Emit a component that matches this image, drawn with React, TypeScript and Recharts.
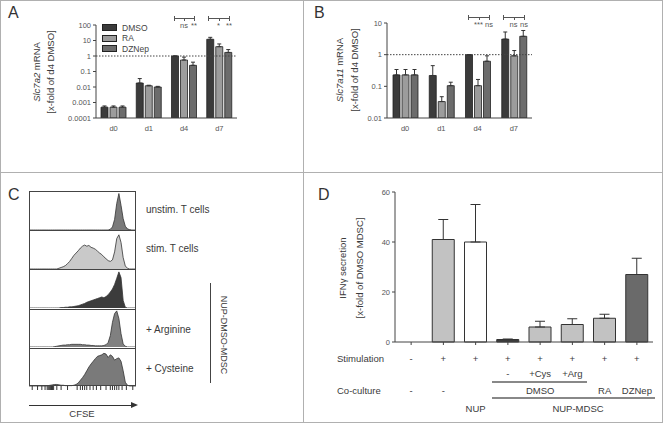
import React from "react";
import {
  BarChart,
  Bar,
  XAxis,
  YAxis,
  ErrorBar,
  ReferenceLine,
  Cell,
  AreaChart,
  Area,
} from "recharts";

// ---- panel A / B: mRNA (log scale)
const days = ["d0", "d1", "d4", "d7"];

const a_dmso = [0.0005, 0.018, 1, 12];
const a_dmsoErr = [0.0001, 0.017, 0, 4];
const a_ra = [0.0005, 0.012, 0.55, 4];
const a_raErr = [0.0001, 0.001, 0.3, 2];
const a_dznep = [0.0005, 0.01, 0.25, 1.7];
const a_dznepErr = [0.0001, 0.001, 0.15, 0.9];

const b_dmso = [0.23, 0.22, 1, 3.1];
const b_dmsoErr = [0.11, 0.23, 0, 2.1];
const b_ra = [0.23, 0.033, 0.105, 0.92];
const b_raErr = [0.11, 0.014, 0.06, 0.43];
const b_dznep = [0.23, 0.105, 0.62, 3.8];
const b_dznepErr = [0.11, 0.03, 0.3, 2];

const aTicks = [0.0001, 0.001, 0.01, 0.1, 1, 10, 100];
const bTicks = [0.01, 0.1, 1, 10];
const legendItems = ["DMSO", "RA", "DZNep"];

// ---- panel C: CFSE histograms, x = 0..100 step 2
const cfseX = Array.from({ length: 51 }, (_, i) => i * 2);
const hUnstim = [
  0, 0, 0, 0, 0, 0, 0, 0, 0, 0, 0, 0, 0, 0, 0, 0, 0, 0, 0, 0, 0, 0, 0, 0, 0, 0,
  0, 0, 0, 0, 0, 0, 0, 0, 0, 0, 0, 0, 2, 8, 28, 70, 96, 65, 30, 10, 3, 1, 0, 0, 0,
];
const hStim = [
  0, 0, 0, 0, 0, 0, 0, 0, 0, 0, 0, 0, 0, 0, 2, 4, 6, 9, 14, 20, 28, 36, 42, 48,
  55, 60, 63, 60, 62, 57, 55, 52, 47, 42, 38, 32, 27, 22, 20, 24, 45, 80, 90, 70,
  30, 8, 2, 0, 0, 0, 0,
];
const hMdsc = [
  0, 0, 0, 0, 0, 0, 0, 0, 0, 0, 0, 0, 0, 0, 0, 1, 1, 2, 2, 3, 3, 4, 5, 6, 8, 10,
  12, 15, 17, 19, 21, 23, 25, 27, 29, 27, 30, 35, 42, 50, 62, 78, 95, 80, 20, 2, 0,
  0, 0, 0, 0,
];
const hArg = [
  0, 0, 0, 0, 0, 0, 0, 0, 0, 0, 0, 0, 1, 2, 3, 4, 5, 5, 6, 6, 7, 7, 7, 7, 7, 6, 6,
  5, 5, 4, 4, 3, 3, 3, 3, 4, 6, 12, 30, 65, 88, 95, 75, 35, 8, 2, 0, 0, 0, 0, 0,
];
const hCys = [
  0, 0, 0, 0, 0, 0, 0, 0, 0, 1, 2, 3, 4, 4, 3, 2, 2, 1, 1, 1, 1, 2, 4, 8, 15, 22,
  30, 40, 50, 58, 65, 72, 78, 80, 82, 86, 84, 75, 82, 78, 68, 72, 74, 65, 40, 10, 2,
  0, 0, 0, 0,
];
const cfseTicks = [
  3, 8, 12, 15, 17, 18, 19, 20, 21, 22, 23, 26, 30, 36, 45, 48, 50, 52, 54, 57, 60,
  63, 67, 72, 76, 78, 80, 82, 84, 87, 91, 97,
];

// ---- panel D: IFNg
const dGroups = ["c1", "c2", "c3", "c4", "c5", "c6", "c7", "c8"];
const dValues = [0, 41, 40, 1, 6, 7, 9.5, 27];
const dErr = [0, 8, 15, 0.2, 2.3, 2.3, 1.6, 6.5];
const dStim = ["-", "+", "+", "+", "+", "+", "+", "+"];
const dSub = ["", "", "", "-", "+Cys", "+Arg", "", ""];
const dCo = ["-", "-", "", "", "DMSO", "", "RA", "DZNep"];

const FONT = '"Liberation Sans", Arial, sans-serif';
const C_DMSO = "#3b3b3b";
const C_RA = "#9c9c9c";
const C_DZ = "#6c6c6c";
const legendFills = [C_DMSO, C_RA, C_DZ];
const dFills = ["#c2c2c2", "#c2c2c2", "#ffffff", "#3b3b3b", "#c2c2c2", "#c2c2c2", "#c2c2c2", "#6a6a6a"];

const rowsA = days.map((d, i) => ({
  day: d,
  dmso: a_dmso[i],
  dmsoErr: [0, a_dmsoErr[i]],
  ra: a_ra[i],
  raErr: [0, a_raErr[i]],
  dz: a_dznep[i],
  dzErr: [0, a_dznepErr[i]],
}));
const rowsB = days.map((d, i) => ({
  day: d,
  dmso: b_dmso[i],
  dmsoErr: [0, b_dmsoErr[i]],
  ra: b_ra[i],
  raErr: [0, b_raErr[i]],
  dz: b_dznep[i],
  dzErr: [0, b_dznepErr[i]],
}));
const rowsD = dGroups.map((g, i) => ({ g, v: dValues[i], e: [0, dErr[i]] }));
const hists = [
  { vals: hUnstim, fill: "#7a7a7a" },
  { vals: hStim, fill: "#c9c9c9" },
  { vals: hMdsc, fill: "#3c3c3c" },
  { vals: hArg, fill: "#808080" },
  { vals: hCys, fill: "#7a7a7a" },
];

const tickStyle = { fontSize: 7.5, fill: "#555", fontFamily: FONT };

function Txt({ x, y, children, size = 9.5, anchor = "center", rotate = 0, color = "#3a3a3a", style = {} }: any) {
  const tx = anchor === "center" ? "-50%" : anchor === "right" ? "-100%" : "0";
  return (
    <div
      style={{
        position: "absolute",
        left: x,
        top: y,
        transform: `translate(${tx}, -50%) rotate(${rotate}deg)`,
        fontSize: size,
        color,
        whiteSpace: "nowrap",
        lineHeight: 1,
        ...style,
      }}
    >
      {children}
    </div>
  );
}

function HLine({ x1, x2, y, color = "#444", w = 1 }: any) {
  return <div style={{ position: "absolute", left: x1, top: y, width: x2 - x1, height: w, background: color }} />;
}
function VLine({ x, y1, y2, color = "#444", w = 1 }: any) {
  return <div style={{ position: "absolute", left: x, top: y1, width: w, height: y2 - y1, background: color }} />;
}

function Bracket({ x1, x2, y, labels }: any) {
  const xm = (x1 + x2) / 2;
  return (
    <>
      <HLine x1={x1} x2={x2} y={y} color="#555" />
      <VLine x={x1} y1={y - 2} y2={y + 3} color="#555" />
      <VLine x={xm} y1={y} y2={y + 3} color="#555" />
      <VLine x={x2} y1={y - 2} y2={y + 3} color="#555" />
      <Txt x={xm} y={y + 8} size={7.5} color="#555">{labels[0]}</Txt>
      <Txt x={x2} y={y + 8} size={7.5} color="#555">{labels[1]}</Txt>
    </>
  );
}

function MrnaChart({ rows, ticks, domain, top, right, left, plotH }: any) {
  return (
    <BarChart
      width={250}
      height={145}
      data={rows}
      margin={{ top, right, left, bottom: 145 - top - plotH - 20 }}
      barSize={7}
      barGap={2}
    >
      <XAxis dataKey="day" tickLine={false} axisLine={{ stroke: "#444" }} tick={tickStyle} height={20} />
      <YAxis
        scale="log"
        domain={domain}
        ticks={ticks}
        allowDataOverflow
        axisLine={{ stroke: "#444" }}
        tickLine={{ stroke: "#444" }}
        tickSize={3}
        tick={tickStyle}
        width={40}
      />
      <ReferenceLine y={1} stroke="#444" strokeDasharray="1.5 1.5" />
      <Bar dataKey="dmso" name="DMSO" fill={C_DMSO} stroke="#222" strokeWidth={0.8} isAnimationActive={false}>
        <ErrorBar dataKey="dmsoErr" width={2} stroke="#333" strokeWidth={1} />
      </Bar>
      <Bar dataKey="ra" name="RA" fill={C_RA} stroke="#222" strokeWidth={0.8} isAnimationActive={false}>
        <ErrorBar dataKey="raErr" width={2} stroke="#333" strokeWidth={1} />
      </Bar>
      <Bar dataKey="dz" name="DZNep" fill={C_DZ} stroke="#222" strokeWidth={0.8} isAnimationActive={false}>
        <ErrorBar dataKey="dzErr" width={2} stroke="#333" strokeWidth={1} />
      </Bar>
    </BarChart>
  );
}

export default function App() {
  const dx = (i: number) => 395 + (258 / 8) * (i + 0.5);
  return (
    <div
      style={{
        position: "absolute",
        left: 0,
        top: 0,
        width: 663,
        height: 423,
        background: "#fff",
        fontFamily: FONT,
        overflow: "hidden",
      }}
    >
      {/* frame */}
      <div style={{ position: "absolute", left: 0, top: 0, width: 661, height: 421, border: "1px solid #b0b0b0" }} />
      <VLine x={303} y1={0} y2={423} color="#b0b0b0" />
      <HLine x1={0} x2={663} y={172} color="#b0b0b0" />

      <Txt x={8} y={13} size={16} anchor="left" color="#333">A</Txt>
      <Txt x={314} y={13} size={16} anchor="left" color="#333">B</Txt>
      <Txt x={8} y={195} size={16} anchor="left" color="#333">C</Txt>
      <Txt x={318} y={195} size={16} anchor="left" color="#333">D</Txt>

      {/* Panel A */}
      <div style={{ position: "absolute", left: 0, top: 0 }}>
        <MrnaChart rows={rowsA} ticks={aTicks} domain={[0.0001, 100]} top={25} right={13} left={56} plotH={93} />
      </div>
      {legendItems.map((name, i) => (
        <div key={name} style={{ position: "absolute", left: 102, top: 23.5 + i * 10.5, display: "flex", alignItems: "center", height: 8 }}>
          <div style={{ width: 15, height: 7, background: legendFills[i], border: "0.8px solid #222", boxSizing: "border-box" }} />
          <span style={{ marginLeft: 5, fontSize: 8.5, color: "#444" }}>{name}</span>
        </div>
      ))}
      <Txt x={37} y={72} size={9.5} rotate={-90}>
        <i>Slc7a2</i> mRNA
      </Txt>
      <Txt x={51} y={72} size={9.5} rotate={-90}>[x-fold of d4 DMSO]</Txt>
      <Bracket x1={174} x2={194} y={18} labels={["ns", "**"]} />
      <Bracket x1={208} x2={229} y={18} labels={["*", "**"]} />

      {/* Panel B */}
      <div style={{ position: "absolute", left: 291, top: 0 }}>
        <MrnaChart rows={rowsB} ticks={bTicks} domain={[0.01, 10]} top={23} right={9} left={56} plotH={95} />
      </div>
      <Txt x={340} y={70} size={9.5} rotate={-90}>
        <i>Slc7a11</i> mRNA
      </Txt>
      <Txt x={355} y={70} size={9.5} rotate={-90}>[x-fold of d4 DMSO]</Txt>
      <Bracket x1={468} x2={489} y={17} labels={["***", "ns"]} />
      <Bracket x1={503} x2={524} y={17} labels={["ns", "ns"]} />

      {/* Panel C */}
      {hists.map((h, r) => {
        const data = cfseX.map((x, i) => ({ x, y: h.vals[i] }));
        const last = r === hists.length - 1;
        return (
          <div key={r} style={{ position: "absolute", left: 29, top: 191 + r * 39 }}>
            <AreaChart width={107} height={last ? 45 : 39} data={data} margin={{ top: 1, right: 0, left: 0, bottom: 0 }}>
              <XAxis
                dataKey="x"
                type="number"
                domain={[0, 100]}
                hide={!last}
                ticks={cfseTicks}
                interval={0}
                tickSize={4}
                tickLine={{ stroke: "#333" }}
                axisLine={false}
                tickFormatter={() => ""}
                height={6}
              />
              <YAxis hide domain={[0, 100]} />
              <Area
                type="linear"
                dataKey="y"
                fill={h.fill}
                fillOpacity={1}
                stroke="#333"
                strokeWidth={0.8}
                isAnimationActive={false}
              />
            </AreaChart>
          </div>
        );
      })}
      <div style={{ position: "absolute", left: 29, top: 191, width: 107, height: 195, border: "1px solid #444", boxSizing: "border-box" }} />
      {[230, 269, 309, 348].map((y) => (
        <HLine key={y} x1={29} x2={136} y={y} color="#444" />
      ))}
      <Txt x={146} y={210} anchor="left" size={10}>unstim. T cells</Txt>
      <Txt x={146} y={249} anchor="left" size={10}>stim. T cells</Txt>
      <Txt x={146} y={330} anchor="left" size={10}>+ Arginine</Txt>
      <Txt x={146} y={369} anchor="left" size={10}>+ Cysteine</Txt>
      <VLine x={210} y1={283} y2={383} color="#444" />
      <Txt x={223} y={335} size={9} rotate={90}>NUP-DMSO-MDSC</Txt>
      <HLine x1={29} x2={132} y={405} color="#333" />
      <div
        style={{
          position: "absolute",
          left: 131,
          top: 402,
          width: 0,
          height: 0,
          borderTop: "3.5px solid transparent",
          borderBottom: "3.5px solid transparent",
          borderLeft: "7px solid #333",
        }}
      />
      <Txt x={82} y={414} size={9.5}>CFSE</Txt>

      {/* Panel D */}
      <div style={{ position: "absolute", left: 330, top: 185 }}>
        <BarChart
          width={333}
          height={175}
          data={rowsD}
          margin={{ top: 7, right: 10, left: 35, bottom: 3 }}
          barSize={22}
        >
          <XAxis
            dataKey="g"
            axisLine={{ stroke: "#444" }}
            tickLine={{ stroke: "#444" }}
            tickSize={3}
            tickFormatter={() => ""}
            height={15}
          />
          <YAxis
            domain={[0, 60]}
            ticks={[0, 20, 40, 60]}
            axisLine={{ stroke: "#444" }}
            tickLine={{ stroke: "#444" }}
            tickSize={3}
            tick={tickStyle}
            width={30}
          />
          <Bar dataKey="v" stroke="#333" strokeWidth={1} isAnimationActive={false}>
            {rowsD.map((_, i) => (
              <Cell key={i} fill={dFills[i]} />
            ))}
            <ErrorBar dataKey="e" width={5} stroke="#333" strokeWidth={1} />
          </Bar>
        </BarChart>
      </div>
      <Txt x={343} y={268} size={9.5} rotate={-90}>IFNγ secretion</Txt>
      <Txt x={360} y={268} size={9.5} rotate={-90}>[x-fold of DMSO MDSC]</Txt>

      <Txt x={337} y={359} anchor="left">Stimulation</Txt>
      {dStim.map((s, i) => (
        <Txt key={"s" + i} x={dx(i)} y={359}>{s}</Txt>
      ))}
      {dSub.map((s, i) => (s ? <Txt key={"u" + i} x={dx(i)} y={374}>{s}</Txt> : null))}
      <HLine x1={492} x2={587} y={381} color="#888" w={1.5} />
      <Txt x={337} y={391} anchor="left">Co-culture</Txt>
      {dCo.map((s, i) => (s ? <Txt key={"c" + i} x={dx(i)} y={391}>{s}</Txt> : null))}
      <HLine x1={492} x2={655} y={397} color="#888" w={1.5} />
      <Txt x={dx(2)} y={409}>NUP</Txt>
      <Txt x={578} y={409}>NUP-MDSC</Txt>
    </div>
  );
}
